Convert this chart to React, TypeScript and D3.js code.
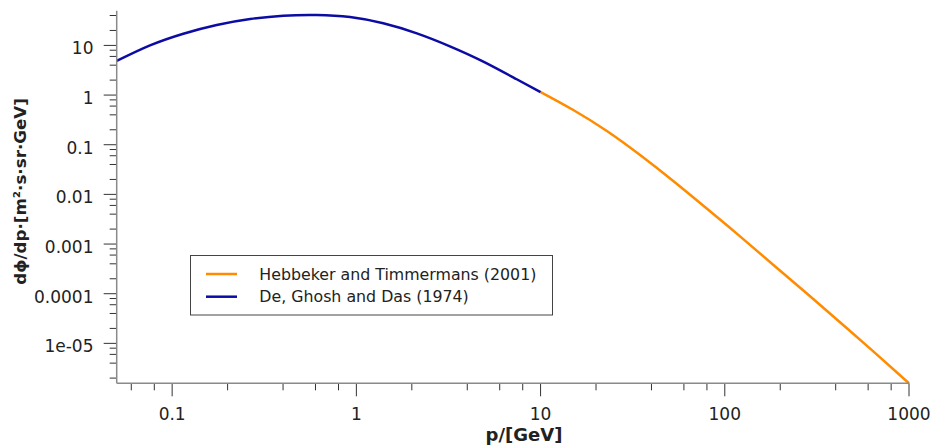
import React from "react";
import * as d3 from "d3";

const W = 932;
const H = 447;

// De, Ghosh and Das (1974)
const deP = [0.05, 0.0758, 0.115, 0.1745, 0.265, 0.401, 0.609, 0.924, 1.4, 2.13, 3.22, 4.89, 7.42, 10];
const deV = [4.86, 10.0, 17.2, 25.8, 34.0, 39.7, 41.0, 37.3, 27.9, 17.5, 9.6, 4.72, 2.08, 1.15];

// Hebbeker and Timmermans (2001)
const htP = [10, 15.05, 22.9, 34.7, 52.5, 79.8, 121, 183, 278, 422, 640, 1000];
const htV = [1.15, 0.5, 0.189, 0.062, 0.0186, 0.0052, 0.00143, 3.84e-4, 1.02e-4, 2.67e-5, 6.9e-6, 1.57e-6];

const xMajor = [0.1, 1, 10, 100, 1000];
const xMajorLabels = ["0.1", "1", "10", "100", "1000"];
const yMajor = [10, 1, 0.1, 0.01, 0.001, 0.0001, 1e-5];
const yMajorLabels = ["10", "1", "0.1", "0.01", "0.001", "0.0001", "1e-05"];
const minorMult = [2, 4, 6, 8];

const legendNames = ["Hebbeker and Timmermans (2001)", "De, Ghosh and Das (1974)"];
const colors = ["#ff8c00", "#0c0ca4"];

const xDomain = [0.05, 1000];
const yDomain = [1.57e-6, 50];

export default function App() {
  const left = 116.7, right = 909, top = 10.7, bottom = 383.3;
  const x = d3.scaleLog().domain(xDomain).range([left, right]);
  const y = d3.scaleLog().domain(yDomain).range([bottom, top]);

  const inRange = (v: number, dom: number[]) => v >= dom[0] * 0.9999 && v <= dom[1] * 1.0001;

  const xMinor: number[] = [];
  for (let e = -2; e <= 3; e++) for (const m of minorMult) { const v = m * Math.pow(10, e); if (inRange(v, xDomain)) xMinor.push(v); }
  const yMinor: number[] = [];
  for (let e = -6; e <= 1; e++) for (const m of minorMult) { const v = m * Math.pow(10, e); if (inRange(v, yDomain)) yMinor.push(v); }

  const line = d3.line<[number, number]>()
    .x(d => x(d[0]))
    .y(d => y(d[1]))
    .curve(d3.curveNatural);

  const dePath = line(deP.map((p, i) => [p, deV[i]] as [number, number])) || "";
  const htPath = line(htP.map((p, i) => [p, htV[i]] as [number, number])) || "";

  const tickColor = "#333";
  const axisColor = "#8a8a8a";
  const font = "'DejaVu Sans', Verdana, sans-serif";

  return (
    <svg width={W} height={H} style={{ position: "absolute", left: 0, top: 0, background: "#fff" }} fontFamily={font}>
      <rect x={0} y={0} width={W} height={H} fill="#fff" />
      {/* curves */}
      <path d={htPath} fill="none" stroke={colors[0]} strokeWidth={2.5} />
      <path d={dePath} fill="none" stroke={colors[1]} strokeWidth={2.5} />

      {/* y axis */}
      {yMinor.map((v, i) => (
        <line key={"ym" + i} x1={left - 7} x2={left} y1={y(v)} y2={y(v)} stroke={tickColor} strokeWidth={1} />
      ))}
      {yMajor.map((v, i) => (
        <g key={"yM" + i}>
          <line x1={left - 13} x2={left} y1={y(v)} y2={y(v)} stroke={tickColor} strokeWidth={1} />
          <text x={93.5} y={y(v) + 9} textAnchor="end" fontSize={17} fill="#222">{yMajorLabels[i]}</text>
        </g>
      ))}
      <line x1={left} x2={left} y1={top} y2={bottom} stroke={axisColor} strokeWidth={1.5} />

      {/* x axis */}
      {xMinor.map((v, i) => (
        <line key={"xm" + i} x1={x(v)} x2={x(v)} y1={bottom} y2={bottom + 7} stroke={tickColor} strokeWidth={1} />
      ))}
      {xMajor.map((v, i) => (
        <g key={"xM" + i}>
          <line x1={x(v)} x2={x(v)} y1={bottom} y2={bottom + 13} stroke={tickColor} strokeWidth={1} />
          <text x={x(v)} y={420} textAnchor="middle" fontSize={17} fill="#222">{xMajorLabels[i]}</text>
        </g>
      ))}
      <line x1={left} x2={right} y1={bottom} y2={bottom} stroke={axisColor} strokeWidth={1.5} />

      {/* axis titles */}
      <text x={524} y={441} textAnchor="middle" fontSize={18} fontWeight="bold" fill="#222">p/[GeV]</text>
      <text transform="translate(25.5,191.5) rotate(-90)" textAnchor="middle" fontSize={16.7} fontWeight="bold" fill="#222">dϕ/dp·[m²·s·sr·GeV]</text>

      {/* legend */}
      <rect x={190.5} y={255.5} width={362} height={59.5} fill="#fff" stroke="#444" strokeWidth={1} />
      {legendNames.map((n, i) => (
        <g key={"lg" + i}>
          <line x1={206} x2={237} y1={274 + i * 22.7} y2={274 + i * 22.7} stroke={colors[i]} strokeWidth={2.5} />
          <text x={259.3} y={279.5 + i * 22.7} fontSize={15.8} fill="#222">{n}</text>
        </g>
      ))}
    </svg>
  );
}
